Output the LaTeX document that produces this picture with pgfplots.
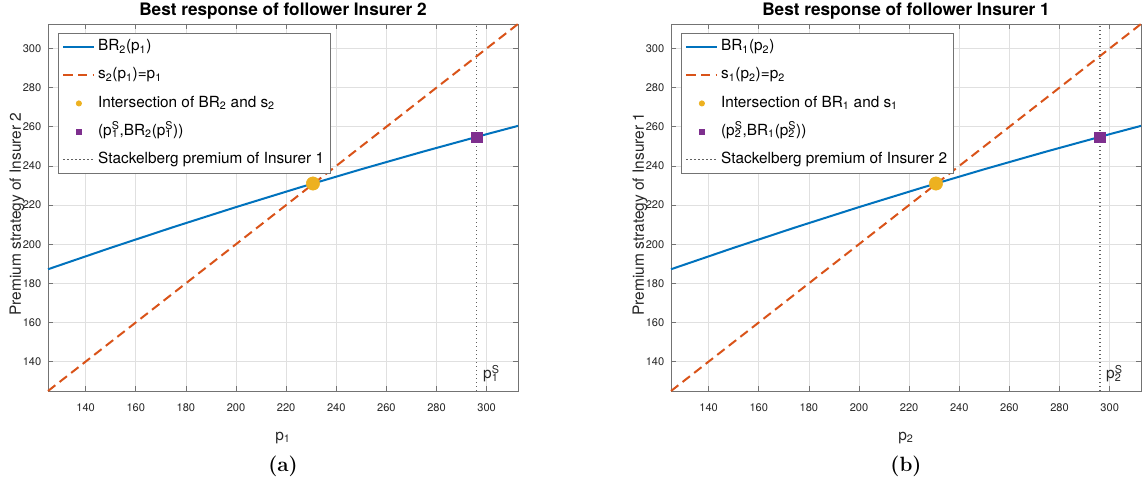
\documentclass[border=0pt]{standalone}
\usepackage{fontspec}
\setsansfont{TeX Gyre Heros}
\usepackage{pgfplots}
\pgfplotsset{compat=1.18}
\definecolor{mblue}{RGB}{0,114,189}
\definecolor{morange}{RGB}{217,83,25}
\definecolor{myellow}{RGB}{237,177,32}
\definecolor{mpurple}{RGB}{126,47,142}
\newcommand{\supsub}[2]{\begingroup\setbox0=\hbox{\textsuperscript{#1}}\setbox2=\hbox{\textsubscript{#2}}\ifdim\wd0>\wd2 \rlap{\box2}\box0\else\rlap{\box0}\box2\fi\endgroup}

\pgfplotstableread{
x y
125 187.2
150 198.15
175 208.73
200 218.95
225 228.81
250 238.30
275 247.43
300 256.20
312.5 260.45
}\brdata

\pgfplotsset{mystyle/.style={
  scale only axis, width=352.5pt, height=275.25pt,
  xmin=125, xmax=312.5, ymin=125, ymax=312.5,
  xtick={140,160,...,300}, ytick={140,160,...,300},
  grid=major, major grid style={black!12, line width=0.45pt},
  axis line style={black!55, line width=0.5pt},
  tick style={black!55, line width=0.5pt}, major tick length=3.5pt,
  tick align=inside,
  /pgf/number format/assume math mode=true,
  tick label style={font=\sffamily\fontsize{8.3}{10}\selectfont, text=black!85},
  xticklabel style={anchor=center, yshift=-12.75pt},
  yticklabel style={xshift=-1.5pt},
  label style={font=\sffamily\fontsize{11.6}{14}\selectfont, text=black!85},
  xlabel style={at={(axis description cs:0.5,-0.128)}, anchor=center},
  ylabel style={at={(axis description cs:-0.066,0.482)}, anchor=center},
  title style={font=\sffamily\bfseries\fontsize{12.9}{15}\selectfont, at={(axis description cs:0.5,1)}, anchor=center, yshift=3.4pt},
  legend style={at={(axis description cs:0.0213,0.975)}, anchor=north west,
    font=\sffamily\fontsize{11.5}{13.8}\selectfont, draw=black!55, line width=0.5pt,
    fill=white, row sep=4.6pt, nodes={text height=8.5pt, text depth=3pt, inner ysep=2.5pt}},
  legend cell align=left,
  legend image code/.code={\draw[mark repeat=2,mark phase=2,#1] plot coordinates {(0cm,0cm) (0.41cm,0cm) (0.82cm,0cm)};},
  clip=false,
}}

\begin{document}
\begin{tikzpicture}
\useasboundingbox (-36pt,-70.5pt) rectangle (821.25pt,293.25pt);
% ---------- (a)
\begin{axis}[mystyle,
  title={Best response of follower Insurer 2},
  xlabel={p\textsubscript{1}},
  ylabel={Premium strategy of Insurer 2}]
\addplot[mblue, line width=1.5pt] table[x=x,y=y] {\brdata};
\addlegendentry{BR\textsubscript{2}(p\textsubscript{1})}
\addplot[morange, line width=1.5pt, dash pattern=on 7pt off 4pt] coordinates {(125,125) (312.5,312.5)};
\addlegendentry{s\textsubscript{2}(p\textsubscript{1})=p\textsubscript{1}}
\addplot[only marks, mark=*, mark size=5pt, mark options={draw=myellow, fill=myellow}, forget plot] coordinates {(230.7,231)};
\addlegendimage{only marks, mark=*, mark size=2pt, mark options={draw=myellow, fill=myellow}}
\addlegendentry{Intersection of BR\textsubscript{2} and s\textsubscript{2}}
\addplot[only marks, mark=square*, mark size=4pt, mark options={draw=mpurple, fill=mpurple}, forget plot] coordinates {(296.1,254.6)};
\addlegendimage{only marks, mark=square*, mark size=1.9pt, mark options={draw=mpurple, fill=mpurple}}
\addlegendentry{(p\supsub{S}{1},BR\textsubscript{2}(p\supsub{S}{1}))}
\addplot[black!62, line width=0.9pt, dash pattern=on 0.9pt off 2.1pt] coordinates {(296.1,125) (296.1,312.5)};
\addlegendentry{Stackelberg premium of Insurer 1}
\node[anchor=base west, font=\sffamily\fontsize{11.6}{14}\selectfont, text=black!85, inner sep=0pt] at (axis cs:296.1,125) [xshift=4.5pt, yshift=9pt] {p\supsub{S}{1}};
\end{axis}
% ---------- (b)
\begin{axis}[mystyle, at={(467.25pt,0pt)},
  title={Best response of follower Insurer 1},
  xlabel={p\textsubscript{2}},
  ylabel={Premium strategy of Insurer 1}]
\addplot[mblue, line width=1.5pt] table[x=x,y=y] {\brdata};
\addlegendentry{BR\textsubscript{1}(p\textsubscript{2})}
\addplot[morange, line width=1.5pt, dash pattern=on 7pt off 4pt] coordinates {(125,125) (312.5,312.5)};
\addlegendentry{s\textsubscript{1}(p\textsubscript{2})=p\textsubscript{2}}
\addplot[only marks, mark=*, mark size=5pt, mark options={draw=myellow, fill=myellow}, forget plot] coordinates {(230.7,231)};
\addlegendimage{only marks, mark=*, mark size=2pt, mark options={draw=myellow, fill=myellow}}
\addlegendentry{Intersection of BR\textsubscript{1} and s\textsubscript{1}}
\addplot[only marks, mark=square*, mark size=4pt, mark options={draw=mpurple, fill=mpurple}, forget plot] coordinates {(296.1,254.6)};
\addlegendimage{only marks, mark=square*, mark size=1.9pt, mark options={draw=mpurple, fill=mpurple}}
\addlegendentry{(p\supsub{S}{2},BR\textsubscript{1}(p\supsub{S}{2}))}
\addplot[black!62, line width=0.9pt, dash pattern=on 0.9pt off 2.1pt] coordinates {(296.1,125) (296.1,312.5)};
\addlegendentry{Stackelberg premium of Insurer 2}
\node[anchor=base west, font=\sffamily\fontsize{11.6}{14}\selectfont, text=black!85, inner sep=0pt] at (axis cs:296.1,125) [xshift=4.5pt, yshift=9pt] {p\supsub{S}{2}};
\end{axis}
\node[font=\rmfamily\bfseries\fontsize{15.5}{18}\selectfont] at (176.25pt,-56.25pt) {(a)};
\node[font=\rmfamily\bfseries\fontsize{15.5}{18}\selectfont] at (643.5pt,-56.25pt) {(b)};
\end{tikzpicture}
\end{document}
